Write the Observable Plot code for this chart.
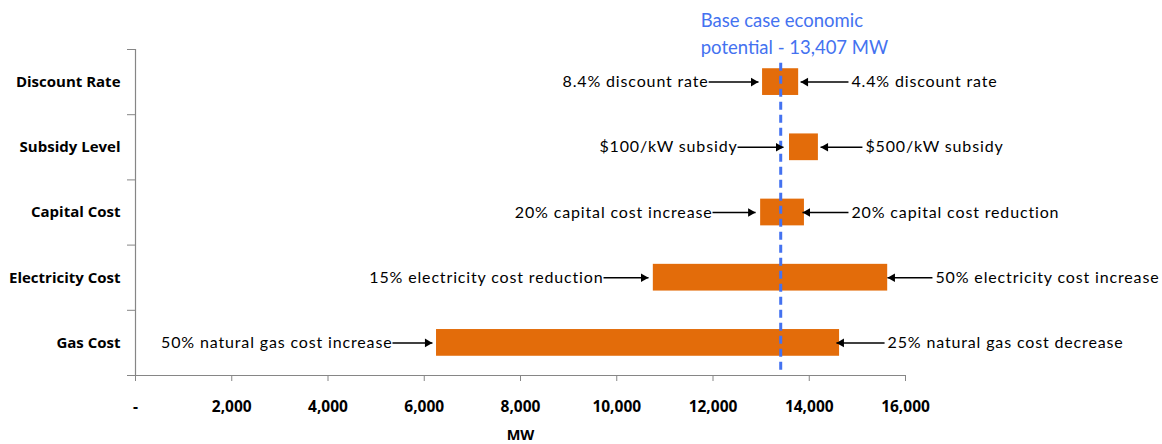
<!DOCTYPE html>
<html>
<head>
<meta charset="utf-8">
<script src="https://cdn.jsdelivr.net/npm/d3@7"></script>
<script src="https://cdn.jsdelivr.net/npm/@observablehq/plot@0.6"></script>
<style>
  body { margin: 0; background: #fff; }
  #chart svg { display: block; }
  .ann text { letter-spacing: 0.85px; }
</style>
</head>
<body>
<div id="chart"></div>
<script>
const categories = ["Discount Rate", "Subsidy Level", "Capital Cost", "Electricity Cost", "Gas Cost"];
const lowValues  = [13030, 13590, 12990, 10760, 6255];
const highValues = [13780, 14190, 13900, 15630, 14630];
const leftLabels  = ["8.4% discount rate", "$100/kW subsidy", "20% capital cost increase", "15% electricity cost reduction", "50% natural gas cost increase"];
const rightLabels = ["4.4% discount rate", "$500/kW subsidy", "20% capital cost reduction", "50% electricity cost increase", "25% natural gas cost decrease"];
const leftArrowFrom  = [11910, 12510, 11990, 9725, 5340];
const leftArrowTo    = [12945, 13465, 12885, 10660, 6170];
const rightArrowFrom = [14815, 15105, 14815, 16560, 15565];
const rightArrowTo   = [13820, 14235, 13860, 15625, 14565];
const baseValue = 13407;
const baseLabel1 = "Base case economic";
const baseLabel2 = "potential - 13,407 MW";
const xTicks = [0, 2000, 4000, 6000, 8000, 10000, 12000, 14000, 16000];
const xLabel = "MW";

const n = categories.length;
const rows = categories.map((c, i) => ({
  cat: c,
  yc: n - i - 0.5,
  lo: lowValues[i], hi: highValues[i],
  ll: leftLabels[i], rl: rightLabels[i],
  lf: leftArrowFrom[i], lt: leftArrowTo[i],
  rf: rightArrowFrom[i], rt: rightArrowTo[i]
}));

const font = "Lato, 'Open Sans', sans-serif";
const boldFont = "'Open Sans', Lato, sans-serif";
const axisGray = "#868686";
const blue = "#4472f0";
const orange = "#e36c0a";
const half = 0.205;

const chart = Plot.plot({
  width: 1162,
  height: 444,
  marginLeft: 135,
  marginRight: 257,
  marginTop: 49,
  marginBottom: 69,
  style: { fontFamily: font, background: "#fff", color: "#000" },
  x: { domain: [0, 16000] },
  y: { domain: [0, n] },
  marks: [
    Plot.rect(rows, { x1: "lo", x2: "hi", y1: d => d.yc - half, y2: d => d.yc + half, fill: orange }),
    Plot.ruleX([baseValue], { y1: 0.08, y2: 4.83, stroke: blue, strokeWidth: 3, strokeDasharray: "8,5" }),
    Plot.ruleY([0], { stroke: axisGray, strokeWidth: 1.2 }),
    Plot.ruleX([0], { stroke: axisGray, strokeWidth: 1.2 }),
    Plot.axisY({ ticks: d3.range(0, n + 1), tickFormat: () => "", tickSize: 8, stroke: axisGray, label: null }),
    Plot.axisX({ ticks: xTicks, tickSize: 6, tickPadding: 19, stroke: axisGray,
      tickFormat: d => d === 0 ? "-" : d3.format(",")(d),
      fontSize: 15.5, fontWeight: "bold", fontFamily: boldFont, fill: "#000", label: null }),
    Plot.text([xLabel], { x: 8000, y: 0, text: d => d, dy: 60, fontSize: 14.5, fontWeight: "bold", fontFamily: boldFont, fill: "#000" }),
    Plot.text(rows, { x: 0, y: "yc", text: "cat", dx: -15, textAnchor: "end", fontSize: 15, fontWeight: "bold", fontFamily: boldFont, fill: "#000" }),
    Plot.link(rows, { x1: "lf", x2: "lt", y1: "yc", y2: "yc", stroke: "#000", strokeWidth: 1.5 }),
    Plot.link(rows, { x1: "rf", x2: "rt", y1: "yc", y2: "yc", stroke: "#000", strokeWidth: 1.5 }),
    Plot.dot(rows, { x: "lt", y: "yc", symbol: "triangle", rotate: 90, r: 3.2, dx: -5, fill: "#000", stroke: null }),
    Plot.dot(rows, { x: "rt", y: "yc", symbol: "triangle", rotate: -90, r: 3.2, dx: 5, fill: "#000", stroke: null }),
    Plot.text(rows, { x: "lf", y: "yc", text: "ll", textAnchor: "end", fontSize: 16, fill: "#000", className: "ann" }),
    Plot.text(rows, { x: "rf", y: "yc", text: "rl", textAnchor: "start", dx: 3, fontSize: 16, fill: "#000", className: "ann" }),
    Plot.text([baseLabel1], { x: baseValue, y: n, text: d => d, textAnchor: "start", dx: -80, dy: -28, fontSize: 18.5, fill: blue }),
    Plot.text([baseLabel2], { x: baseValue, y: n, text: d => d, textAnchor: "start", dx: -80, dy: -1, fontSize: 18.5, fill: blue })
  ]
});
document.getElementById("chart").appendChild(chart);
</script>
</body>
</html>
